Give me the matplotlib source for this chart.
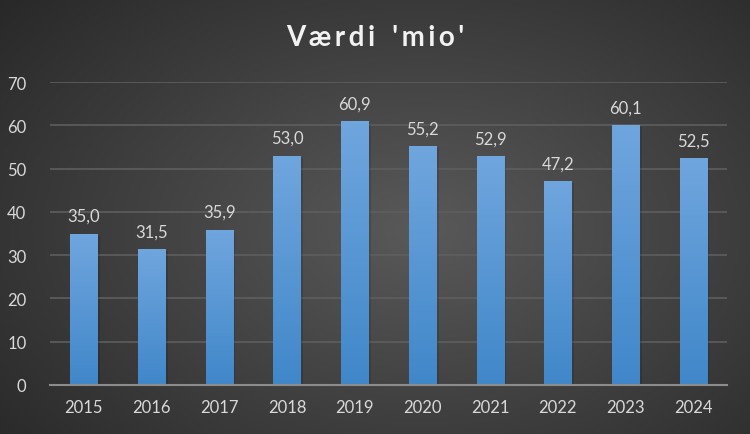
import numpy as np
import matplotlib
matplotlib.use('Agg')
import matplotlib.pyplot as plt

years = ['2015', '2016', '2017', '2018', '2019', '2020', '2021', '2022', '2023', '2024']
values = [35.0, 31.5, 35.9, 53.0, 60.9, 55.2, 52.9, 47.2, 60.1, 52.5]
labels = ['35,0', '31,5', '35,9', '53,0', '60,9', '55,2', '52,9', '47,2', '60,1', '52,5']

plt.rcParams['font.family'] = ['Lato', 'DejaVu Sans']

fig = plt.figure(figsize=(7.5, 4.35), dpi=100)

# radial gradient background
bg = fig.add_axes([0, 0, 1, 1], zorder=0)
yy, xx = np.mgrid[0:435, 0:750]
r = np.sqrt(((xx - 420) / 520.0) ** 2 + ((yy - 230) / 330.0) ** 2)
shade = np.clip(0.35 - 0.18 * r, 0.14, 0.35)
bg.imshow(np.dstack([shade] * 3), aspect='auto', extent=[0, 1, 0, 1])
bg.axis('off')

ax = fig.add_axes([50 / 750, (435 - 386) / 435, 677 / 750, 303 / 435], zorder=1)
ax.patch.set_alpha(0)

x = np.arange(len(years))
width = 0.4
# soft shadow
ax.bar(x + 0.04, values, width, bottom=-0.5, color='black', alpha=0.12, zorder=2)
bars = ax.bar(x, values, width, color='#5b9bd5', zorder=3)

grad = np.linspace(0, 1, 256).reshape(-1, 1)
top = np.array([0.44, 0.65, 0.87])
bot = np.array([0.25, 0.53, 0.79])
cols = top + (bot - top) * grad[..., None]
for b in bars:
    im = ax.imshow(cols, aspect='auto', zorder=3,
                   extent=[b.get_x(), b.get_x() + b.get_width(), 0, b.get_height()])
    im.set_clip_path(b)

for xi, v, lab in zip(x, values, labels):
    ax.text(xi, v + 2.2, lab, ha='center', va='bottom', fontsize=12, color='#d9d9d9', zorder=4)

ax.set_xlim(-0.5, len(years) - 0.5)
ax.set_ylim(0, 70)
ax.set_yticks(range(0, 71, 10))
ax.set_xticks(x)
ax.set_xticklabels(years)
ax.yaxis.grid(True, color='#5e5e5e', linewidth=1.2)
ax.set_axisbelow(True)
for s in ['top', 'right', 'left']:
    ax.spines[s].set_visible(False)
ax.spines['bottom'].set_color('#8c8c8c')
ax.spines['bottom'].set_linewidth(1.5)
ax.spines['bottom'].set_zorder(5)
ax.tick_params(axis='both', length=0, labelsize=12, labelcolor='#d9d9d9')
ax.tick_params(axis='x', pad=10)
ax.tick_params(axis='y', pad=17)

fig.text(0.5, 1 - 38 / 435, "V\u2009æ\u2009r\u2009d\u2009i  \u2009'\u2009m\u2009i\u2009o\u2009'", ha='center',
         va='center', fontsize=20, fontweight='bold', color='#f2f2f2')

fig.savefig('out.png', dpi=100)
